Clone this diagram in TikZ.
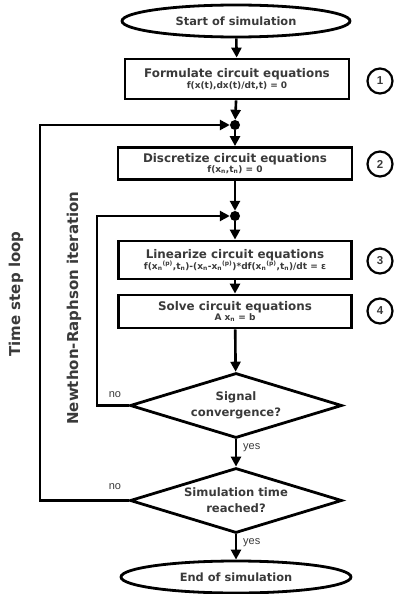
\documentclass[tikz,border=0pt]{standalone}
\usepackage{fontspec}
\setmainfont{DejaVu Sans}
\newfontfamily\arialfont{Liberation Sans}
\usetikzlibrary{shapes.geometric,arrows.meta}
\definecolor{txt}{HTML}{3A3A3A}
\tikzset{
  every node/.style={text=txt, font=\bfseries},
  shp/.style={draw=black, line width=2.8pt},
  term/.style={shp, ellipse, inner sep=0pt, font=\bfseries\fontsize{11.4}{13}\selectfont},
  stepbox/.style={shp, rectangle, inner sep=0pt, align=center},
  decision/.style={shp, diamond, inner sep=0pt, minimum width=212pt, minimum height=65pt},
  dtext/.style={align=center, inner sep=0pt, font=\bfseries\fontsize{11.6}{16}\selectfont},
  junction/.style={circle, fill=black, inner sep=0pt, minimum size=10pt},
  num/.style={circle, draw=black, line width=2.2pt, minimum size=25pt, inner sep=0pt, font=\arialfont\bfseries\fontsize{11.5}{12}\selectfont},
  lbl/.style={font=\arialfont\fontsize{11}{12}\selectfont, inner sep=0pt},
  side/.style={rotate=90, font=\bfseries\fontsize{15}{17}\selectfont, inner sep=0pt},
  flow/.style={line width=2.6pt, -{Triangle[length=10pt,width=10pt]}},
  loop/.style={line width=2.8pt, -{Triangle[length=10pt,width=10pt]}},
}
\newcommand{\ttl}{\fontsize{11.9}{14}\selectfont}
\newcommand{\frm}{\fontsize{9}{10}\selectfont}
\begin{document}
\begin{tikzpicture}[x=1pt,y=-1pt]
\useasboundingbox (0,0) rectangle (394,594);

% terminals
\node[term, minimum width=228pt, minimum height=32pt] (start) at (236,21) {Start of simulation};
\node[term, minimum width=230pt, minimum height=32pt] (end) at (236,577) {End of simulation};

% process steps
\node[stepbox, minimum width=224pt, minimum height=40pt] (b1) at (237,79)
  {{\ttl Formulate circuit equations}\\[-1pt]{\frm f(x(t),dx(t)/dt,t) = 0}};
\node[stepbox, minimum width=234pt, minimum height=32pt] (b2) at (235,163.5)
  {{\ttl Discretize circuit equations}\\[-2pt]{\frm f(x\textsubscript{n},t\textsubscript{n}) = 0}};
\node[stepbox, minimum width=233pt, minimum height=38pt] (b3) at (235,260)
  {{\ttl Linearize circuit equations}\\[-1pt]{\frm f(x\textsubscript{n}\textsuperscript{(p)},t\textsubscript{n})-(x\textsubscript{n}-x\textsubscript{n}\textsuperscript{(p)})*df(x\textsubscript{n}\textsuperscript{(p)},t\textsubscript{n})/dt = ε}};
\node[stepbox, minimum width=233pt, minimum height=33pt] (b4) at (235,311.5)
  {{\ttl Solve circuit equations}\\[-2pt]{\frm A x\textsubscript{n} = b}};

% decisions (outline plus centred text)
\node[decision] (d1) at (236,405.5) {};
\node[dtext] (d1t) at (d1.center) {Signal\\convergence?};
\node[decision] (d2) at (236,500.5) {};
\node[dtext] (d2t) at (d2.center) {Simulation time\\reached?};

% junctions
\node[junction] (j1) at (235,125) {};
\node[junction] (j2) at (235,216) {};

% step numbers
\node[num] (n1) at (380,81) {1};
\node[num] (n2) at (380,164) {2};
\node[num] (n3) at (380,261) {3};
\node[num] (n4) at (380,311) {4};

% main flow
\draw[flow] (start) -- (b1);
\draw[flow] (b1) -- (j1);
\draw[flow] (j1) -- (b2);
\draw[flow] (b2) -- (j2);
\draw[flow] (j2) -- (b3);
\draw[flow] (b3) -- (b4);
\draw[flow] (b4) -- (d1);
\draw[flow] (d1) -- (d2);
\draw[flow] (d2) -- (end);

% loops back
\coordinate (nrb) at (97,405.5);
\coordinate (nrt) at (97,216);
\coordinate (tsb) at (40,500.5);
\coordinate (tst) at (40,125);
\draw[loop] (d1.west) -- (nrb) -- (nrt) -- (j2);
\draw[loop] (d2.west) -- (tsb) -- (tst) -- (j1);

% branch labels
\node[lbl] (no1) at (115,395) {no};
\node[lbl] (no2) at (115,487) {no};
\node[lbl, anchor=west] (yes1) at (243,448) {yes};
\node[lbl, anchor=west] (yes2) at (243,543) {yes};

% loop names
\node[side] (tsl) at (16,294) {Time step loop};
\node[side] (nri) at (74,308) {Newthon-Raphson iteration};
\end{tikzpicture}
\end{document}
